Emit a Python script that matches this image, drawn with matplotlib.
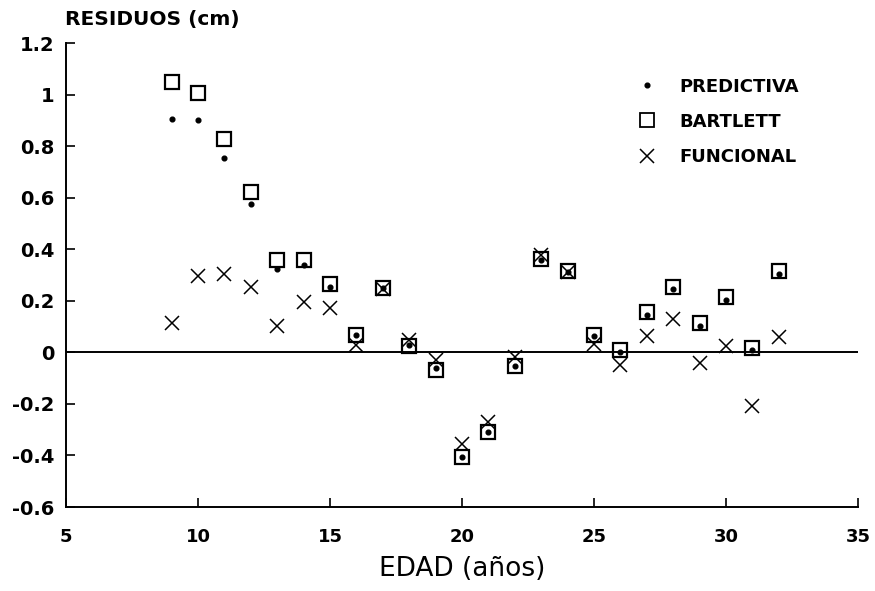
import matplotlib

matplotlib.use("Agg")
import matplotlib.pyplot as plt
from matplotlib.lines import Line2D


# -------------------------
# Data
# -------------------------
edad = [9, 10, 11, 12, 13, 14, 15, 16, 17, 18, 19, 20,
        21, 22, 23, 24, 25, 26, 27, 28, 29, 30, 31, 32]

predictiva = [0.905, 0.900, 0.755, 0.575, 0.325, 0.340, 0.255, 0.068,
              0.248, 0.029, -0.062, -0.405, -0.310, -0.052, 0.360, 0.310,
              0.064, 0.000, 0.145, 0.244, 0.103, 0.203, 0.010, 0.303]

bartlett = [1.048, 1.006, 0.829, 0.624, 0.360, 0.360, 0.264, 0.068,
            0.248, 0.025, -0.068, -0.405, -0.310, -0.052, 0.364, 0.316,
            0.068, 0.008, 0.155, 0.254, 0.113, 0.216, 0.016, 0.316]

funcional = [0.113, 0.295, 0.303, 0.252, 0.102, 0.196, 0.173, 0.029,
             0.245, 0.048, -0.029, -0.357, -0.271, -0.019, 0.376, 0.310,
             0.031, -0.050, 0.064, 0.129, -0.042, 0.025, -0.207, 0.061]

x_ticks = [5, 10, 15, 20, 25, 30, 35]
y_ticks = [-0.6, -0.4, -0.2, 0, 0.2, 0.4, 0.6, 0.8, 1.0, 1.2]
y_tick_labels = ["-0.6", "-0.4", "-0.2", "0", "0.2", "0.4", "0.6", "0.8", "1", "1.2"]

series_names = ["PREDICTIVA", "BARTLETT", "FUNCIONAL"]


def main() -> None:
    plt.rcParams["font.family"] = ["DejaVu Sans"]

    fig = plt.figure(figsize=(8.75, 5.91), dpi=100)
    ax = fig.add_axes([0.0754, 0.1421, 0.9051, 0.7851])

    # reference line at zero
    ax.axhline(0, color="black", lw=1.4, zorder=1)

    ax.plot(edad, bartlett, ls="none", marker="s", ms=10, mfc="none",
            mec="black", mew=1.6, zorder=2)
    ax.plot(edad, funcional, ls="none", marker="x", ms=9.5,
            mec="black", mew=1.1, zorder=3)
    ax.plot(edad, predictiva, ls="none", marker="o", ms=3.4,
            mfc="black", mec="black", zorder=4)

    ax.set_xlim(5, 35)
    ax.set_ylim(-0.6, 1.2)
    ax.set_xticks(x_ticks)
    ax.set_yticks(y_ticks)
    ax.set_yticklabels(y_tick_labels)

    for s in ["top", "right"]:
        ax.spines[s].set_visible(False)
    for s in ["left", "bottom"]:
        ax.spines[s].set_linewidth(1.4)

    ax.tick_params(axis="both", direction="in", length=6.5, width=1.2)
    ax.tick_params(axis="x", pad=15, labelsize=13)
    ax.tick_params(axis="y", pad=8, labelsize=14)
    for lab in ax.get_xticklabels() + ax.get_yticklabels():
        lab.set_fontweight("bold")

    ax.set_xlabel("EDAD (años)", fontsize=19, labelpad=7)
    fig.text(65 / 875, 1 - 20 / 591, "RESIDUOS (cm)", fontsize=14.5,
             fontweight="bold", ha="left", va="center")

    handles = [
        Line2D([], [], ls="none", marker="o", ms=3.4, mfc="black", mec="black"),
        Line2D([], [], ls="none", marker="s", ms=10, mfc="none", mec="black", mew=1.3),
        Line2D([], [], ls="none", marker="x", ms=9.5, mec="black", mew=1.1),
    ]
    fig.legend(handles, series_names, loc="upper left",
               bbox_to_anchor=(0.719, 0.884), frameon=False,
               prop={"size": 13, "weight": "bold"},
               handlelength=1.0, handletextpad=1.3,
               labelspacing=0.95, borderpad=0, numpoints=1)

    fig.savefig("out.png", dpi=100)
    plt.close(fig)


if __name__ == "__main__":
    main()
